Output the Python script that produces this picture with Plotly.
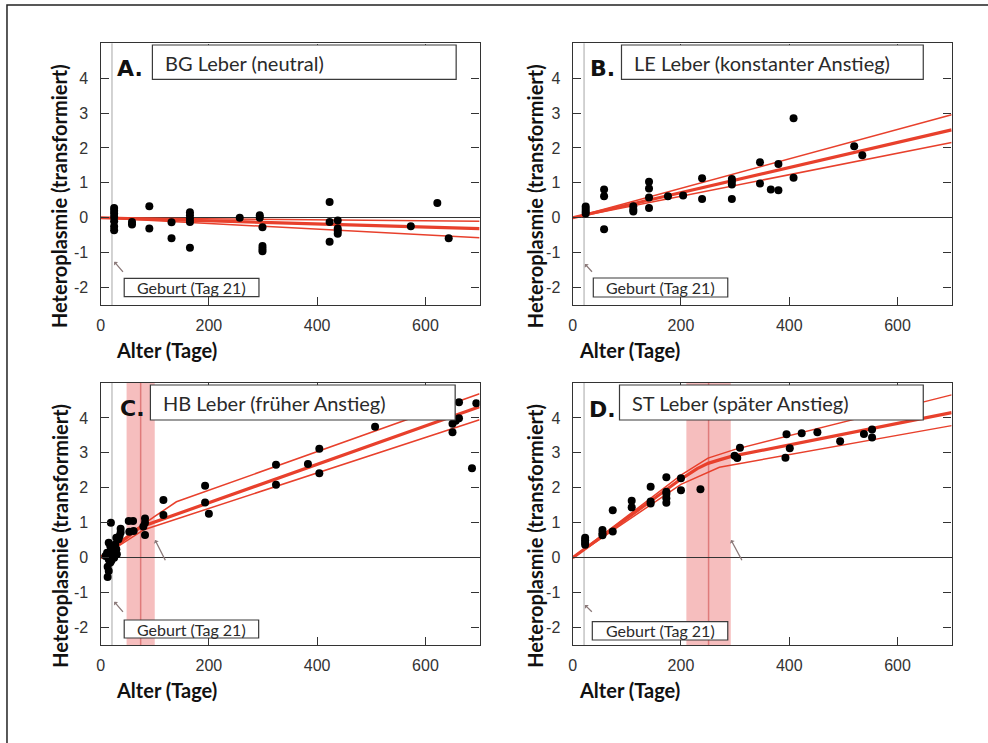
import plotly.graph_objects as go

# ---------------- data ----------------
# A. BG Leber (neutral)
A_days = [25, 25, 25, 25, 25, 25, 25, 58, 58, 90, 90, 131, 131, 165, 165, 165, 165, 165,
          257, 294, 294, 299, 299, 299, 299, 423, 423, 423, 438, 438, 438, 438, 573, 622, 643]
A_vals = [0.28, 0.2, 0.12, 0.02, -0.1, -0.25, -0.36, -0.12, -0.19, 0.33, -0.31, -0.13, -0.59,
          0.16, 0.07, -0.03, -0.12, -0.86, 0.0, 0.07, 0.0, -0.27, -0.81, -0.89, -0.96,
          0.45, -0.12, -0.69, -0.08, -0.31, -0.38, -0.46, -0.24, 0.42, -0.59]
A_fit_x = [0, 700]
A_fit_mid = [0, -0.31]
A_fit_hi = [0, -0.10]
A_fit_lo = [0, -0.57]

# B. LE Leber (konstanter Anstieg)
B_days = [24, 24, 24, 24, 58, 58, 58, 112, 112, 112, 141, 141, 141, 141, 176, 204, 239, 239,
          294, 294, 294, 294, 346, 346, 366, 380, 380, 408, 408, 520, 535]
B_vals = [0.32, 0.25, 0.18, 0.12, 0.81, 0.62, -0.33, 0.33, 0.24, 0.18, 1.03, 0.84, 0.58, 0.28,
          0.62, 0.64, 1.13, 0.54, 1.11, 1.05, 0.95, 0.54, 1.59, 0.98, 0.81, 1.54, 0.79,
          2.85, 1.15, 2.05, 1.79]
B_fit_x = [0, 700]
B_fit_mid = [0, 2.52]
B_fit_hi = [0, 2.95]
B_fit_lo = [0, 2.16]

# C. HB Leber (früher Anstieg)
C_days = [19, 15, 18, 21, 12, 17, 24, 29, 30, 25, 15, 18, 13, 15, 13, 9, 27, 33, 29, 37, 37, 35,
          18, 22, 26, 20, 52, 60, 53, 61, 82, 82, 79, 82, 116, 116, 193, 193, 200, 324, 324,
          383, 404, 404, 507, 650, 650, 656, 662, 662, 686, 694]
C_vals = [1.0, 0.43, 0.33, 0.24, 0.14, 0.1, 0.19, 0.24, 0.1, 0.0, -0.05, -0.14, -0.26, -0.38,
          -0.55, 0.05, 0.38, 0.53, 0.57, 0.83, 0.72, 0.62, 0.05, 0.3, 0.15, -0.08,
          1.05, 1.05, 0.74, 0.76, 1.12, 1.0, 0.89, 0.65, 1.65, 1.22, 2.06, 1.58, 1.26,
          2.66, 2.09, 2.68, 3.12, 2.42, 3.75, 3.59, 3.83, 3.92, 3.99, 4.45, 2.56, 4.42]
C_mid_x = [0, 74, 700]
C_mid_y = [0, 0.88, 4.32]
C_hi_x = [0, 60, 100, 140, 700]
C_hi_y = [0, 0.75, 1.18, 1.6, 4.69]
C_lo_x = [0, 80, 700]
C_lo_y = [0, 0.80, 3.95]
C_break = 74
C_break_ci = [48, 100]

# D. ST Leber (später Anstieg)
D_days = [23, 23, 23, 23, 55, 55, 55, 74, 74, 109, 109, 144, 144, 144, 173, 173, 173, 173, 173,
          200, 200, 236, 299, 304, 309, 393, 395, 401, 423, 452, 494, 538, 553, 553]
D_vals = [0.57, 0.5, 0.43, 0.37, 0.79, 0.7, 0.64, 1.36, 0.75, 1.63, 1.44, 2.03, 1.61, 1.55,
          2.3, 1.89, 1.82, 1.7, 1.57, 2.27, 1.93, 1.96, 2.92, 2.85, 3.15, 2.86, 3.53, 3.13,
          3.56, 3.59, 3.33, 3.54, 3.67, 3.44]
D_mid_x = [0, 200, 230, 250, 271, 293, 700]
D_mid_y = [0, 2.25, 2.55, 2.70, 2.80, 2.90, 4.15]
D_hi_x = [0, 200, 250, 300, 700]
D_hi_y = [0, 2.36, 2.85, 3.1, 4.66]
D_lo_x = [0, 200, 271, 700]
D_lo_y = [0, 2.1, 2.59, 3.78]
D_break = 251
D_break_ci = [210, 292]

titles = ["BG Leber (neutral)", "LE Leber (konstanter Anstieg)",
          "HB Leber (früher Anstieg)", "ST Leber (später Anstieg)"]
letters = ["A.", "B.", "C.", "D."]
birth_day = 21
x_ticks = [0, 200, 400, 600]
y_ticks = [-2, -1, 0, 1, 2, 3, 4]
y_ticktext = ["-2", "-1", "0", "1", "2", "3", "4"]

# ---------------- layout helpers ----------------
W, H = 988, 743


def fx(x):
    return x / W


def fy(y):
    return 1 - y / H


RED = "#e8402c"
INK = "#2a2a2a"
TEXT_FONT = "Lato, 'Open Sans', sans-serif"
TICK_FONT = "'Liberation Sans', Arial, sans-serif"

# plot-area pixel boxes: left, top, right, bottom
boxes = [(97, 43.3, 477.5, 305), (571, 43.3, 951.5, 305),
         (97, 383, 477.5, 645), (571, 383, 951.5, 645)]

panels = [
    dict(days=A_days, vals=A_vals, mid=(A_fit_x, A_fit_mid), hi=(A_fit_x, A_fit_hi),
         lo=(A_fit_x, A_fit_lo), brk=None),
    dict(days=B_days, vals=B_vals, mid=(B_fit_x, B_fit_mid), hi=(B_fit_x, B_fit_hi),
         lo=(B_fit_x, B_fit_lo), brk=None),
    dict(days=C_days, vals=C_vals, mid=(C_mid_x, C_mid_y), hi=(C_hi_x, C_hi_y),
         lo=(C_lo_x, C_lo_y), brk=(C_break, C_break_ci)),
    dict(days=D_days, vals=D_vals, mid=(D_mid_x, D_mid_y), hi=(D_hi_x, D_hi_y),
         lo=(D_lo_x, D_lo_y), brk=(D_break, D_break_ci)),
]

# per-panel decoration offsets (pixels relative to plot top-left)
title_box = [(52, 1.7, 357, 36), (49, 1.7, 352, 36), (50, 2, 356, 37), (47, 2, 352, 37)]
letter_pos = [(30, 25), (29.5, 25), (32.5, 25), (29.5, 26)]
birth_box = [(23.7, 235, 159, 253.4), (20.7, 234.7, 155.7, 253.7),
             (23.7, 237, 158.7, 255), (19.7, 238.7, 155.7, 257)]
birth_arrow = [((23.7, 230), (13.7, 218.4)), ((20.7, 230), (12.3, 220.7)),
               ((23.7, 230.3), (13.7, 218.7)), ((20.7, 230.3), (12.3, 222))]
band_arrow = [None, None, ((65.7, 178.7), (54.7, 157)), ((170.7, 178.7), (159, 157))]
ytitle_dx = [-41, -38, -41, -38]
xtitle_dx = [13, 4, 13, 4]

fig = go.Figure()
shapes = []
annotations = []
layout_axes = {}

for i, (p, (L, T, R, B)) in enumerate(zip(panels, boxes)):
    n = "" if i == 0 else str(i + 1)
    xa, ya = "x" + n, "y" + n

    layout_axes["xaxis" + n] = dict(
        domain=[fx(L), fx(R)], anchor=ya, range=[0, 700],
        tickvals=x_ticks, ticks="inside", ticklen=8, tickwidth=1.2, tickcolor="#333",
        showline=True, linecolor="#333", linewidth=1.4, mirror="ticks",
        showgrid=False, zeroline=False, ticklabelstandoff=6,
        tickfont=dict(family=TICK_FONT, size=16, color="#333"),
    )
    layout_axes["yaxis" + n] = dict(
        domain=[fy(B), fy(T)], anchor=xa, range=[-2.5, 5],
        tickvals=y_ticks, ticktext=y_ticktext, ticks="inside", ticklen=8, tickwidth=1.2,
        tickcolor="#333", showline=True, linecolor="#333", linewidth=1.4, mirror="ticks",
        showgrid=False, zeroline=True, zerolinecolor="#333", zerolinewidth=1.4,
        ticklabelstandoff=8,
        tickfont=dict(family=TICK_FONT, size=16, color="#333"),
    )

    # birth marker line
    shapes.append(dict(type="line", xref=xa, yref=ya + " domain", x0=birth_day, x1=birth_day,
                       y0=0, y1=1, line=dict(color="#c4c4c4", width=1.5), layer="below"))

    # breakpoint estimate with its confidence band
    if p["brk"] is not None:
        bx, (b0, b1) = p["brk"]
        shapes.append(dict(type="rect", xref=xa, yref=ya + " domain", x0=b0, x1=b1, y0=0, y1=1,
                           fillcolor="rgba(238,125,125,0.5)", line=dict(width=0), layer="below"))
        shapes.append(dict(type="line", xref=xa, yref=ya + " domain", x0=bx, x1=bx, y0=0, y1=1,
                           line=dict(color="rgba(215,100,100,0.75)", width=1.5), layer="below"))

    # fitted trend with confidence limits
    for key, w in (("hi", 1.5), ("lo", 1.5), ("mid", 3.2)):
        xs, ys = p[key]
        fig.add_trace(go.Scatter(x=xs, y=ys, mode="lines", xaxis=xa, yaxis=ya,
                                 line=dict(color=RED, width=w), hoverinfo="skip",
                                 showlegend=False, cliponaxis=True))

    # measurements
    fig.add_trace(go.Scatter(x=p["days"], y=p["vals"], mode="markers", xaxis=xa, yaxis=ya,
                             marker=dict(color="black", size=8), showlegend=False,
                             cliponaxis=True))

    # title box and label
    x0, y0, x1, y1 = title_box[i]
    shapes.append(dict(type="rect", xref="paper", yref="paper",
                       x0=fx(L + x0), x1=fx(L + x1), y0=fy(T + y1), y1=fy(T + y0),
                       fillcolor="white", line=dict(color="#3a3a3a", width=1.2), layer="above"))
    annotations.append(dict(text=titles[i], xref="paper", yref="paper",
                            x=fx(L + x0 + 11), y=fy(T + 20), xanchor="left", yanchor="middle",
                            showarrow=False, font=dict(family=TEXT_FONT, size=20, color=INK)))
    lx, ly = letter_pos[i]
    annotations.append(dict(text="<b>" + letters[i] + "</b>", xref="paper", yref="paper",
                            x=fx(L + lx), y=fy(T + ly), xanchor="center", yanchor="middle",
                            showarrow=False,
                            font=dict(family="'DejaVu Sans', sans-serif", size=22,
                                      color="#111")))

    # birth label box
    x0, y0, x1, y1 = birth_box[i]
    shapes.append(dict(type="rect", xref="paper", yref="paper",
                       x0=fx(L + x0), x1=fx(L + x1), y0=fy(T + y1), y1=fy(T + y0),
                       fillcolor="white", line=dict(color="#3a3a3a", width=1.2), layer="above"))
    annotations.append(dict(text="Geburt (Tag 21)", xref="paper", yref="paper",
                            x=fx(L + (x0 + x1) / 2), y=fy(T + (y0 + y1) / 2),
                            xanchor="center", yanchor="middle", showarrow=False,
                            font=dict(family=TEXT_FONT, size=16, color=INK)))

    # pointer lines
    for arr in (birth_arrow[i], band_arrow[i]):
        if arr is None:
            continue
        (tx, ty), (hx, hy) = arr
        annotations.append(dict(text="", xref="paper", yref="paper",
                                x=fx(L + hx), y=fy(T + hy), ax=tx - hx, ay=ty - hy,
                                showarrow=True, arrowhead=1, arrowsize=0.7, arrowwidth=1.3,
                                arrowcolor="#8a7878"))

    # axis titles
    annotations.append(dict(text="<b>Heteroplasmie (transformiert)</b>", xref="paper",
                            yref="paper", x=fx(L + ytitle_dx[i]), y=fy(T + 153),
                            xanchor="center", yanchor="middle", textangle=-90, showarrow=False,
                            font=dict(family=TEXT_FONT, size=20, color="#111")))
    annotations.append(dict(text="<b>Alter (Tage)</b>", xref="paper", yref="paper",
                            x=fx(L + xtitle_dx[i]), y=fy(B + 45), xanchor="left",
                            yanchor="middle", showarrow=False,
                            font=dict(family=TEXT_FONT, size=20, color="#111")))

# outer frame (top and left edges visible)
shapes.append(dict(type="rect", xref="paper", yref="paper", x0=fx(3), x1=1.02,
                   y0=-0.02, y1=fy(5), line=dict(color="#222", width=1.5), layer="above"))

fig.update_layout(
    width=W, height=H, margin=dict(l=0, r=0, t=0, b=0),
    paper_bgcolor="white", plot_bgcolor="white",
    shapes=shapes, annotations=annotations, showlegend=False,
    **layout_axes,
)

fig.write_html("out.html")
